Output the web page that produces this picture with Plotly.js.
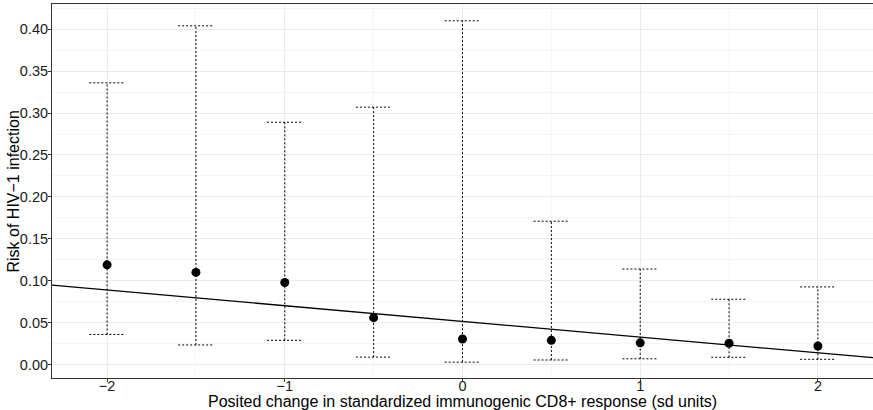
<!DOCTYPE html>
<html>
<head>
<meta charset="utf-8">
<script src="https://cdn.plot.ly/plotly-3.0.1.min.js"></script>
<style>html,body{margin:0;padding:0;background:#fff;}#chart{width:873px;height:410px;}</style>
</head>
<body>
<div id="chart"></div>
<script>
// Data
const xVals = [-2, -1.5, -1, -0.5, 0, 0.5, 1, 1.5, 2];
const riskEst = [0.119, 0.110, 0.098, 0.056, 0.0306, 0.029, 0.026, 0.0255, 0.0223];
const ciLower = [0.036, 0.0235, 0.029, 0.009, 0.003, 0.0056, 0.007, 0.0088, 0.0064];
const ciUpper = [0.336, 0.404, 0.289, 0.307, 0.410, 0.171, 0.114, 0.078, 0.0927];
const fitX = [-2.31, 2.31];
const fitY = [0.0948, 0.0083];
const xTickVals = [-2, -1, 0, 1, 2];
const yTickVals = [0, 0.05, 0.10, 0.15, 0.20, 0.25, 0.30, 0.35, 0.40];
const yTickText = ["0.00","0.05","0.10","0.15","0.20","0.25","0.30","0.35","0.40"];
const xTitle = 'Posited change in standardized immunogenic CD8+ response (sd units)';
const yTitle = 'Risk of HIV\u22121 infection';

const capHalf = 0.1;
const traces = [];
// fitted line
traces.push({x: fitX, y: fitY, mode: 'lines', line: {color: '#000', width: 1.3}, hoverinfo: 'skip', showlegend: false});
// dotted error bars (vertical + caps)
const ex = [], ey = [];
for (let i = 0; i < xVals.length; i++) {
  ex.push(xVals[i], xVals[i], null);
  ey.push(ciLower[i], ciUpper[i], null);
  ex.push(xVals[i] - capHalf, xVals[i] + capHalf, null);
  ey.push(ciUpper[i], ciUpper[i], null);
  ex.push(xVals[i] - capHalf, xVals[i] + capHalf, null);
  ey.push(ciLower[i], ciLower[i], null);
}
traces.push({x: ex, y: ey, mode: 'lines', line: {color: '#000', width: 1, dash: '2px,2px'}, hoverinfo: 'skip', showlegend: false, connectgaps: false});
// points
traces.push({x: xVals, y: riskEst, mode: 'markers', marker: {color: '#000', size: 9}, showlegend: false});

const layout = {
  width: 873, height: 410,
  margin: {l: 52, r: 0, t: 4, b: 32},
  paper_bgcolor: '#fff', plot_bgcolor: '#fff',
  font: {family: 'Liberation Sans, Arial, sans-serif', size: 14, color: '#000'},
  xaxis: {
    range: [-2.31, 2.31], tickvals: xTickVals, ticks: 'outside', ticklen: 3, tickcolor: '#333',
    ticklabelstandoff: -8,
    showline: true, mirror: true, linecolor: '#333', linewidth: 1,
    showgrid: true, gridcolor: '#ebebeb', gridwidth: 1, zeroline: false,
    minor: {dtick: 0.5, tick0: 0, showgrid: true, gridcolor: '#f2f2f2', gridwidth: 0.8, ticks: ''},
    tickfont: {size: 14.5, color: '#1a1a1a'}
  },
  yaxis: {
    range: [-0.0159, 0.430], tickvals: yTickVals, ticktext: yTickText, ticks: 'outside', ticklen: 3, tickcolor: '#333',
    ticklabelstandoff: -3,
    showline: true, mirror: true, linecolor: '#333', linewidth: 1,
    showgrid: true, gridcolor: '#ebebeb', gridwidth: 1, zeroline: false,
    minor: {dtick: 0.025, tick0: 0, showgrid: true, gridcolor: '#f2f2f2', gridwidth: 0.8, ticks: ''},
    tickfont: {size: 14.5, color: '#1a1a1a'}
  },
  annotations: [
    {text: xTitle, xref: 'paper', yref: 'paper', x: 0.5, y: -0.0345, xanchor: 'center', yanchor: 'top',
     showarrow: false, font: {size: 16, color: '#000'}},
    {text: yTitle, xref: 'paper', yref: 'paper', x: -0.0469, y: 0.5, xanchor: 'center', yanchor: 'middle',
     textangle: -90, showarrow: false, font: {size: 16, color: '#000'}}
  ]
};
Plotly.newPlot('chart', traces, layout, {staticPlot: true, displayModeBar: false});
</script>
</body>
</html>
